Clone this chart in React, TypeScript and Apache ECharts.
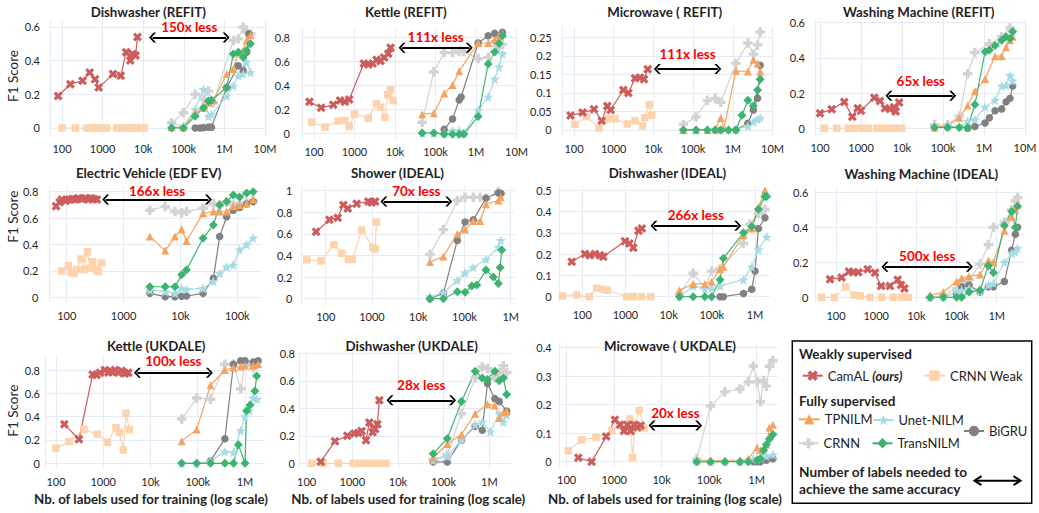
import React, { useEffect, useRef } from 'react';
import * as echarts from 'echarts';

type P = [number, number][];

const panelTitles = [
  'Dishwasher (REFIT)', 'Kettle (REFIT)', 'Microwave ( REFIT)', 'Washing Machine (REFIT)',
  'Electric Vehicle (EDF EV)', 'Shower (IDEAL)', 'Dishwasher (IDEAL)', 'Washing Machine (IDEAL)',
  'Kettle (UKDALE)', 'Dishwasher (UKDALE)', 'Microwave ( UKDALE)',
];

const xTickNames: Record<number, string> = { 1: '10', 2: '100', 3: '1000', 4: '10k', 5: '100k', 6: '1M', 7: '10M' };

// ---------- Panel 1: Dishwasher (REFIT)
const p1CamAL: P = [[80,0.19],[160,0.26],[320,0.28],[480,0.33],[650,0.29],[800,0.24],[1800,0.32],[2800,0.31],[3800,0.45],[4800,0.40],[5500,0.44],[6500,0.43],[7200,0.54]];
const p1Weak: P = [[100,0],[213,0],[410,0],[550,0],[720,0],[960,0],[1230,0],[2240,0],[3000,0],[4000,0],[5300,0],[7000,0],[9200,0],[10500,0]];
const p1Tp: P = [[50e3,0.005],[98e3,0.005],[190e3,0.09],[305e3,0.12],[405e3,0.15],[535e3,0.165],[1.14e6,0.32],[1.66e6,0.35],[2.2e6,0.45],[2.9e6,0.46],[3.5e6,0.52],[4.4e6,0.55]];
const p1Unet: P = [[50e3,0.03],[98e3,0.01],[190e3,0.11],[305e3,0.23],[405e3,0.07],[480e3,0.08],[1.14e6,0.19],[1.66e6,0.25],[2.2e6,0.31],[2.9e6,0.32],[3.5e6,0.39],[4.4e6,0.33]];
const p1Bigru: P = [[190e3,0],[250e3,0],[305e3,0.002],[405e3,0.005],[480e3,0.005],[1.14e6,0.24],[2.2e6,0.37],[2.9e6,0.34],[3.5e6,0.45],[4.0e6,0.56]];
const p1Crnn: P = [[50e3,0.03],[98e3,0.09],[190e3,0.2],[305e3,0.17],[405e3,0.22],[535e3,0.15],[1.66e6,0.52],[2.2e6,0.53],[2.9e6,0.6],[3.5e6,0.57],[4.4e6,0.56]];
const p1Trans: P = [[50e3,0],[98e3,0],[190e3,0.07],[305e3,0.12],[405e3,0.16],[480e3,0.165],[1.14e6,0.24],[1.66e6,0.44],[2.2e6,0.45],[2.9e6,0.42],[3.5e6,0.46],[4.4e6,0.50]];

// ---------- Panel 2: Kettle (REFIT)
const p2CamAL: P = [[77,0.26],[150,0.21],[300,0.235],[440,0.27],[580,0.26],[740,0.28],[1700,0.58],[2200,0.57],[2800,0.58],[3500,0.61],[4400,0.60],[5400,0.63],[6800,0.66],[7800,0.71]];
const p2Weak: P = [[88,0.09],[187,0.05],[398,0.10],[580,0.105],[740,0.055],[990,0.157],[2200,0.124],[3500,0.243],[4400,0.215],[5600,0.13],[6600,0.32],[7800,0.36],[9100,0.27]];
const p2Tp: P = [[47e3,0.157],[91e3,0.165],[164e3,0.33],[264e3,0.40],[384e3,0.515],[1.13e6,0.75],[2.0e6,0.75],[2.9e6,0.78],[3.7e6,0.81],[4.5e6,0.83]];
const p2Unet: P = [[47e3,0],[91e3,0],[164e3,0],[264e3,0.02],[384e3,0.02],[500e3,0],[1.13e6,0.19],[2.0e6,0.30],[2.9e6,0.45],[3.7e6,0.55],[4.5e6,0.66]];
const p2Bigru: P = [[164e3,0.03],[264e3,0.116],[384e3,0.276],[430e3,0.30],[1.13e6,0.75],[2.0e6,0.81],[2.9e6,0.83],[4.5e6,0.84]];
const p2Crnn: P = [[47e3,0.09],[91e3,0.51],[164e3,0.67],[264e3,0.67],[384e3,0.68],[500e3,0.68],[1.13e6,0.62],[2.0e6,0.63],[2.9e6,0.76],[3.7e6,0.72],[4.5e6,0.74]];
const p2Trans: P = [[47e3,0],[91e3,0],[164e3,-0.01],[264e3,-0.01],[384e3,-0.01],[500e3,-0.01],[1.13e6,0.138],[2.0e6,0.575],[2.9e6,0.676],[3.7e6,0.745],[4.5e6,0.81]];

// ---------- Panel 3: Microwave (REFIT)
const p3CamAL: P = [[82,0.039],[165,0.047],[320,0.056],[500,0.025],[690,0.065],[840,0.054],[1750,0.108],[2340,0.10],[3460,0.14],[4600,0.142],[5800,0.137],[7200,0.164]];
const p3Weak: P = [[106,0.015],[209,0.036],[430,0.005],[690,0.03],[1080,0.03],[2210,0.016],[3460,0.025],[5300,0.011],[6100,0.033],[7900,0.068],[9100,0.04]];
const p3Tp: P = [[57e3,0],[119e3,0],[230e3,0],[359e3,0.002],[500e3,0.032],[600e3,0.005],[1.2e6,0.16],[2.4e6,0.158],[3.3e6,0.19],[4.2e6,0.18],[4.9e6,0.158]];
const p3Unet: P = [[57e3,0],[119e3,0],[230e3,0],[359e3,0],[500e3,0],[780e3,0],[1.2e6,0.002],[2.4e6,0.01],[3.3e6,0.022],[4.2e6,0.029],[4.9e6,0.032]];
const p3Bigru: P = [[500e3,0],[1.2e6,0],[2.4e6,0.018],[3.3e6,0.054],[4.2e6,0.086],[4.9e6,0.175]];
const p3Crnn: P = [[57e3,0.015],[119e3,0.035],[230e3,0.08],[359e3,0.085],[500e3,0.075],[1.2e6,0.18],[2.4e6,0.235],[3.3e6,0.205],[4.2e6,0.23],[4.9e6,0.265]];
const p3Trans: P = [[57e3,0],[119e3,0],[230e3,0],[359e3,0],[500e3,0],[780e3,0],[1.2e6,0],[1.7e6,0.04],[2.4e6,0.08],[3.3e6,0.065],[4.2e6,0.108],[4.9e6,0.137]];

// ---------- Panel 4: Washing Machine (REFIT)
const p4CamAL: P = [[100,0.085],[193,0.108],[390,0.15],[614,0.066],[830,0.114],[1000,0.10],[2100,0.174],[2900,0.155],[3850,0.114],[5100,0.11],[6400,0.12],[7000,0.095],[8500,0.146]];
const p4Weak: P = [[127,0],[255,0],[490,0],[710,0],[1040,0],[1500,0],[2400,0],[3200,0],[4600,0],[6700,0],[9800,0]];
const p4Tp: P = [[62e3,0.005],[129e3,0.015],[250e3,0.06],[400e3,0.13],[600e3,0.21],[1.06e6,0.28],[1.86e6,0.41],[2.7e6,0.41],[3.45e6,0.46],[4.3e6,0.5],[5.0e6,0.52]];
const p4Unet: P = [[62e3,0.01],[129e3,0.01],[250e3,0.01],[400e3,0.04],[600e3,0.05],[1.06e6,0.12],[1.86e6,0.16],[2.7e6,0.24],[3.45e6,0.245],[4.3e6,0.3],[5.0e6,0.27]];
const p4Bigru: P = [[400e3,0],[600e3,0.01],[1.06e6,0.03],[1.35e6,0.06],[1.86e6,0.1],[2.7e6,0.11],[3.45e6,0.15],[4.3e6,0.17],[5.0e6,0.24]];
const p4Crnn: P = [[62e3,0.02],[129e3,0.02],[250e3,0.07],[400e3,0.31],[600e3,0.43],[1.35e6,0.48],[2.7e6,0.52],[4.3e6,0.57]];
const p4Trans: P = [[62e3,0.005],[129e3,0.005],[250e3,0.005],[400e3,0.005],[600e3,0.135],[1.06e6,0.435],[1.35e6,0.445],[1.86e6,0.47],[2.7e6,0.5],[3.45e6,0.52],[4.3e6,0.51],[5.0e6,0.55]];

// ---------- Panel 5: Electric Vehicle (EDF EV)
const p5CamAL: P = [[65,0.69],[75,0.72],[82,0.74],[95,0.73],[110,0.74],[125,0.745],[140,0.74],[160,0.75],[185,0.745],[210,0.75],[240,0.74],[270,0.75],[300,0.745],[340,0.74]];
const p5Weak: P = [[82,0.20],[107,0.24],[120,0.19],[135,0.18],[150,0.21],[179,0.29],[200,0.21],[231,0.345],[260,0.22],[286,0.27],[330,0.21],[360,0.195],[412,0.26]];
const p5Tp: P = [[2900,0.46],[5400,0.354],[8000,0.46],[10.5e3,0.515],[12.8e3,0.427],[25e3,0.636],[38e3,0.65],[49e3,0.65],[65e3,0.65],[85e3,0.69],[110e3,0.70],[146e3,0.71],[190e3,0.74]];
const p5Unet: P = [[2900,0.055],[5400,0.043],[8000,0.03],[10.5e3,0.068],[12.8e3,0.06],[25e3,0.068],[38e3,0.12],[49e3,0.18],[65e3,0.23],[85e3,0.245],[110e3,0.36],[146e3,0.40],[190e3,0.45]];
const p5Bigru: P = [[2900,0.03],[5400,0.005],[8000,0.005],[10.5e3,0.008],[12.8e3,0.01],[25e3,0.03],[38e3,0.144],[49e3,0.46],[65e3,0.61],[85e3,0.66],[110e3,0.68],[146e3,0.707],[190e3,0.725]];
const p5Crnn: P = [[2900,0.66],[5400,0.687],[8000,0.65],[10.5e3,0.64],[12.8e3,0.65],[25e3,0.675],[38e3,0.71],[49e3,0.7],[65e3,0.72],[85e3,0.70],[110e3,0.71],[146e3,0.72],[190e3,0.73]];
const p5Trans: P = [[2900,0.08],[5400,0.08],[8000,0.08],[10.5e3,0.17],[12.8e3,0.207],[25e3,0.447],[38e3,0.548],[49e3,0.70],[65e3,0.725],[85e3,0.775],[110e3,0.76],[146e3,0.79],[190e3,0.80]];

// ---------- Panel 6: Shower (IDEAL)
const p6CamAL: P = [[62,0.62],[120,0.73],[182,0.75],[240,0.867],[300,0.836],[467,0.88],[835,0.9],[990,0.89],[1170,0.9]];
const p6Weak: P = [[39,0.36],[79,0.35],[151,0.5],[222,0.42],[309,0.364],[377,0.364],[600,0.636],[1050,0.475],[1170,0.46],[1260,0.71]];
const p6Tp: P = [[18e3,0.34],[35e3,0.39],[70e3,0.6],[103e3,0.64],[155e3,0.72],[218e3,0.72],[292e3,0.875],[540e3,0.91],[610e3,0.94]];
const p6Unet: P = [[18e3,0.02],[35e3,0.055],[70e3,0.17],[103e3,0.24],[155e3,0.29],[292e3,0.364],[540e3,0.475],[610e3,0.54]];
const p6Bigru: P = [[18e3,0],[35e3,0.05],[70e3,0.54],[103e3,0.71],[155e3,0.73],[292e3,0.93],[540e3,0.98],[610e3,0.975]];
const p6Crnn: P = [[18e3,0.41],[35e3,0.64],[70e3,0.91],[103e3,0.94],[155e3,0.94],[218e3,0.94],[292e3,0.93],[540e3,0.99],[610e3,0.975]];
const p6Trans: P = [[18e3,0],[35e3,0],[70e3,0.065],[103e3,0.06],[144e3,0.117],[184e3,0.127],[292e3,0.265],[422e3,0.2],[541e3,0.14],[589e3,0.29],[639e3,0.45]];

// ---------- Panel 7: Dishwasher (IDEAL)
const p7CamAL: P = [[57,0.164],[115,0.2],[150,0.195],[196,0.2],[257,0.195],[307,0.188],[975,0.26],[1230,0.25],[1520,0.23],[2000,0.31],[2390,0.32]];
const p7Weak: P = [[35,0.003],[74,0.008],[145,0],[215,0.04],[300,0.035],[380,0.03],[1070,0],[1520,0],[2360,0],[3800,0]];
const p7Tp: P = [[17.8e3,0.03],[37e3,0.06],[69e3,0.06],[99e3,0.07],[155e3,0.13],[185e3,0.14],[540e3,0.29],[840e3,0.32],[1.2e6,0.42],[1.7e6,0.5]];
const p7Unet: P = [[17.8e3,0],[37e3,0.05],[69e3,0.04],[99e3,0.04],[155e3,0.05],[540e3,0.08],[840e3,0.14],[1.2e6,0.22],[1.86e6,0.28]];
const p7Bigru: P = [[155e3,0],[185e3,0],[540e3,0.015],[840e3,0.035],[1.0e6,0.12],[1.2e6,0.32],[1.7e6,0.37]];
const p7Crnn: P = [[17.8e3,0.01],[37e3,0.11],[69e3,0.04],[99e3,0.12],[155e3,0.13],[540e3,0.25],[760e3,0.34],[1.2e6,0.39],[1.7e6,0.41]];
const p7Trans: P = [[17.8e3,0],[37e3,0],[69e3,0],[99e3,0],[155e3,0.08],[185e3,0.18],[540e3,0.3],[840e3,0.33],[1.2e6,0.41],[1.7e6,0.47],[1.86e6,0.47]];

// ---------- Panel 8: Washing Machine (IDEAL)
const p8CamAL: P = [[71,0.103],[138,0.114],[210,0.147],[268,0.143],[360,0.143],[616,0.16],[935,0.14],[1320,0.065],[2200,0.065],[3430,0.1],[4150,0.07],[5040,0.05]];
const p8Weak: P = [[44,0],[91,0],[174,0.06],[280,0.013],[397,0.008],[700,0],[1370,0],[2680,0],[4300,0],[6300,0]];
const p8Tp: P = [[22e3,0.01],[47e3,0.03],[100e3,0.09],[134e3,0.11],[205e3,0.12],[384e3,0.13],[620e3,0.21],[830e3,0.2],[1.55e6,0.38],[2.36e6,0.46],[2.9e6,0.5],[3.3e6,0.53]];
const p8Unet: P = [[22e3,0],[47e3,0],[100e3,0.03],[134e3,0.04],[205e3,0.05],[384e3,0.03],[620e3,0.07],[830e3,0.08],[1.55e6,0.2],[2.36e6,0.25],[2.9e6,0.26],[3.3e6,0.28]];
const p8Bigru: P = [[100e3,0.02],[134e3,0.06],[205e3,0.07],[384e3,0.03],[620e3,0.06],[830e3,0.06],[1.55e6,0.09],[2.36e6,0.27],[2.9e6,0.36],[3.3e6,0.4]];
const p8Crnn: P = [[22e3,0],[47e3,0.01],[100e3,0.05],[134e3,0.08],[205e3,0.1],[384e3,0.19],[620e3,0.3],[830e3,0.4],[1.55e6,0.43],[2.36e6,0.5],[2.9e6,0.55],[3.3e6,0.57]];
const p8Trans: P = [[22e3,0],[47e3,0],[100e3,0],[134e3,0],[205e3,0.03],[384e3,0.04],[620e3,0.18],[830e3,0.14],[1.55e6,0.41],[2.36e6,0.49],[2.9e6,0.4],[3.3e6,0.52]];

// ---------- Panel 9: Kettle (UKDALE)
const p9CamAL: P = [[150,0.334],[307,0.206],[597,0.763],[725,0.757],[853,0.777],[1090,0.8],[1280,0.78],[1510,0.785],[1770,0.8],[2090,0.777],[2450,0.794],[2880,0.771],[3400,0.777]];
const p9Weak: P = [[100,0.13],[191,0.186],[391,0.29],[750,0.25],[1220,0.18],[1860,0.306],[2190,0.266],[2660,0.114],[3030,0.43],[3560,0.29]];
const p9Tp: P = [[45.7e3,0.19],[95e3,0.29],[186e3,0.67],[375e3,0.8],[570e3,0.82],[810e3,0.83],[1e6,0.84],[1.5e6,0.84],[1.9e6,0.85]];
const p9Unet: P = [[45.7e3,0],[95e3,0],[186e3,0.02],[375e3,0.1],[570e3,0.09],[810e3,0.28],[1e6,0.4],[1.23e6,0.45],[1.5e6,0.56],[1.8e6,0.55]];
const p9Bigru: P = [[186e3,0.02],[375e3,0.21],[570e3,0.85],[810e3,0.88],[1e6,0.88],[1.5e6,0.87],[1.9e6,0.88]];
const p9Crnn: P = [[45.7e3,0.38],[95e3,0.56],[186e3,0.55],[375e3,0.85],[570e3,0.85],[810e3,0.64],[1e6,0.86],[1.5e6,0.82]];
const p9Trans: P = [[45.7e3,0],[95e3,0],[186e3,0],[375e3,0],[570e3,0],[725e3,0.16],[1e6,0],[1.08e6,0.45],[1.28e6,0.5],[1.62e6,0.62],[1.77e6,0.75]];

// ---------- Panel 10: Dishwasher (UKDALE)
const p10CamAL: P = [[203,0.012],[417,0.16],[776,0.2],[1110,0.217],[1350,0.22],[1600,0.234],[1990,0.168],[2350,0.296],[2790,0.225],[3150,0.25],[3540,0.284],[3900,0.458]];
const p10Weak: P = [[129,0],[232,0],[494,0],[1050,0],[1470,0],[2060,0],[2870,0],[4030,0],[5440,0]];
const p10Tp: P = [[59e3,0.04],[120e3,0.14],[246e3,0.21],[490e3,0.36],[910e3,0.43],[1.32e6,0.42],[1.65e6,0.33],[2.03e6,0.37],[2.4e6,0.38]];
const p10Unet: P = [[59e3,0.02],[120e3,0.05],[246e3,0.17],[490e3,0.28],[700e3,0.3],[1.05e6,0.23],[1.65e6,0.36],[2.03e6,0.3],[2.4e6,0.35]];
const p10Bigru: P = [[59e3,0.01],[120e3,0.01],[246e3,0.17],[490e3,0.27],[700e3,0.24],[910e3,0.58],[1.32e6,0.47],[1.65e6,0.45],[2.4e6,0.38]];
const p10Crnn: P = [[59e3,0.03],[120e3,0.06],[246e3,0.36],[490e3,0.62],[700e3,0.7],[910e3,0.69],[1.32e6,0.62],[1.65e6,0.66],[2.03e6,0.71],[2.4e6,0.66]];
const p10Trans: P = [[59e3,0.07],[120e3,0.18],[246e3,0.45],[490e3,0.67],[700e3,0.62],[910e3,0.61],[1.32e6,0.67],[1.65e6,0.6],[2.03e6,0.62],[2.4e6,0.5]];

// ---------- Panel 11: Microwave (UKDALE)
const p11CamAL: P = [[176,0.014],[336,0],[680,0.088],[1040,0.147],[1330,0.13],[1610,0.108],[1900,0.13],[2230,0.108],[2620,0.13],[3080,0.12],[3620,0.127]];
const p11Weak: P = [[108,0.038],[207,0.076],[414,0.085],[890,0.108],[1330,0.13],[1690,0.11],[2150,0.15],[2450,0.014],[2750,0.13],[3380,0.18],[4260,0.118]];
const p11Tp: P = [[55e3,0.005],[107e3,0.005],[215e3,0.005],[445e3,0.005],[665e3,0.01],[1.02e6,0.05],[1.2e6,0.04],[1.6e6,0.06],[1.86e6,0.12],[2.2e6,0.13]];
const p11Unet: P = [[55e3,0],[107e3,0],[215e3,0],[445e3,0],[665e3,0.005],[850e3,0.01],[1.02e6,0.01],[1.2e6,0.015],[1.6e6,0.02],[2.2e6,0.025]];
const p11Bigru: P = [[850e3,0],[1.02e6,0],[1.2e6,0],[1.6e6,0.005],[2.2e6,0.01]];
const p11Crnn: P = [[55e3,0.01],[107e3,0.195],[215e3,0.245],[445e3,0.255],[665e3,0.28],[850e3,0.335],[1.02e6,0.28],[1.2e6,0.21],[1.4e6,0.285],[1.6e6,0.265],[1.86e6,0.335],[2.2e6,0.355]];
const p11Trans: P = [[55e3,0],[107e3,0],[215e3,0],[445e3,0],[665e3,0],[1.02e6,0.005],[1.2e6,0.01],[1.4e6,0.04],[1.6e6,0.06],[1.86e6,0.08],[2.2e6,0.095]];

// ---------- "x less" arrows
const arrowStart = [17e3, 15e3, 12.6e3, 4.8e3, 485, 1820, 4570, 1660, 5300, 6700, 6300];
const arrowEnd = [1.1e6, 680e3, 420e3, 172e3, 31e3, 45.6e3, 397e3, 209e3, 176e3, 157e3, 60e3];
const arrowLevel = [0.537, 0.71, 0.165, 0.185, 0.74, 0.9, 0.333, 0.175, 0.777, 0.458, 0.127];
const arrowText = ['150x less', '111x less', '111x less', '65x less', '166x less', '70x less', '266x less', '500x less', '100x less', '28x less', '20x less'];

const panels = [
  { camal: p1CamAL, weak: p1Weak, tp: p1Tp, unet: p1Unet, bigru: p1Bigru, crnn: p1Crnn, trans: p1Trans },
  { camal: p2CamAL, weak: p2Weak, tp: p2Tp, unet: p2Unet, bigru: p2Bigru, crnn: p2Crnn, trans: p2Trans },
  { camal: p3CamAL, weak: p3Weak, tp: p3Tp, unet: p3Unet, bigru: p3Bigru, crnn: p3Crnn, trans: p3Trans },
  { camal: p4CamAL, weak: p4Weak, tp: p4Tp, unet: p4Unet, bigru: p4Bigru, crnn: p4Crnn, trans: p4Trans },
  { camal: p5CamAL, weak: p5Weak, tp: p5Tp, unet: p5Unet, bigru: p5Bigru, crnn: p5Crnn, trans: p5Trans },
  { camal: p6CamAL, weak: p6Weak, tp: p6Tp, unet: p6Unet, bigru: p6Bigru, crnn: p6Crnn, trans: p6Trans },
  { camal: p7CamAL, weak: p7Weak, tp: p7Tp, unet: p7Unet, bigru: p7Bigru, crnn: p7Crnn, trans: p7Trans },
  { camal: p8CamAL, weak: p8Weak, tp: p8Tp, unet: p8Unet, bigru: p8Bigru, crnn: p8Crnn, trans: p8Trans },
  { camal: p9CamAL, weak: p9Weak, tp: p9Tp, unet: p9Unet, bigru: p9Bigru, crnn: p9Crnn, trans: p9Trans },
  { camal: p10CamAL, weak: p10Weak, tp: p10Tp, unet: p10Unet, bigru: p10Bigru, crnn: p10Crnn, trans: p10Trans },
  { camal: p11CamAL, weak: p11Weak, tp: p11Tp, unet: p11Unet, bigru: p11Bigru, crnn: p11Crnn, trans: p11Trans },
];

// ---------- layout / styles
const layout = [
  { l: 49.8, r: 265, t: 20.2, b: 136.4, xMin: 50, xMax: 1e7, yMin: -0.05, yMax: 0.64, step: 0.2, lab: 40, tx: 148.3, ty: 12.3, ad: 4 },
  { l: 301.8, r: 516.5, t: 28.6, b: 139, xMin: 50, xMax: 1e7, yMin: -0.05, yMax: 0.87, step: 0.2, lab: 290, tx: 405.8, ty: 12.3, ad: 4 },
  { l: 562, r: 772.5, t: 26.4, b: 135.5, xMin: 50, xMax: 1e7, yMin: -0.015, yMax: 0.28, step: 0.05, lab: 551.7, tx: 664.7, ty: 12.3, ad: 8 },
  { l: 814.9, r: 1025, t: 19.2, b: 135.3, xMin: 75, xMax: 1e7, yMin: -0.04, yMax: 0.62, step: 0.2, lab: 805, tx: 918.7, ty: 12.3, ad: 8 },
  { l: 49.6, r: 261.8, t: 186.4, b: 302.6, xMin: 50, xMax: 2.7e5, yMin: -0.04, yMax: 0.84, step: 0.2, lab: 38.3, tx: 148.7, ty: 172.7, ad: 2 },
  { l: 301.5, r: 514.4, t: 186.4, b: 304.1, xMin: 30, xMax: 1.2e6, yMin: -0.05, yMax: 1.04, step: 0.2, lab: 292.3, tx: 397.5, ty: 172.7, ad: 4 },
  { l: 559.7, r: 769.8, t: 185.9, b: 302, xMin: 30, xMax: 2.2e6, yMin: -0.025, yMax: 0.52, step: 0.1, lab: 551.7, tx: 667.5, ty: 172.7, ad: 4 },
  { l: 815, r: 1024.8, t: 187, b: 302.6, xMin: 30, xMax: 5e6, yMin: -0.03, yMax: 0.63, step: 0.2, lab: 808.3, tx: 921.3, ty: 174.3, ad: 4 },
  { l: 45.5, r: 264.6, t: 356.1, b: 469.1, xMin: 60, xMax: 2.6e6, yMin: -0.05, yMax: 0.92, step: 0.2, lab: 40, tx: 156.2, ty: 345.7, ad: 5 },
  { l: 299.6, r: 511.1, t: 351.9, b: 468.8, xMin: 70, xMax: 3e6, yMin: -0.04, yMax: 0.81, step: 0.2, lab: 295, tx: 411.7, ty: 345.7, ad: 8 },
  { l: 559.3, r: 777.9, t: 344.8, b: 467.4, xMin: 70, xMax: 2.8e6, yMin: -0.02, yMax: 0.41, step: 0.1, lab: 551.7, tx: 670, ty: 345.7, ad: 5 },
];

const FONT = "Lato, 'Noto Sans', 'DejaVu Sans', sans-serif";
const GRID = '#E5EBF4';
const TXT = '#1f1f1f';

const X_PATH = 'path://M-5,-2.5L-2.5,-5L0,-2.5L2.5,-5L5,-2.5L2.5,0L5,2.5L2.5,5L0,2.5L-2.5,5L-5,2.5L-2.5,0Z';
const PLUS_PATH = 'path://M-1.8,-5L1.8,-5L1.8,-1.8L5,-1.8L5,1.8L1.8,1.8L1.8,5L-1.8,5L-1.8,1.8L-5,1.8L-5,-1.8L-1.8,-1.8Z';
const starPts = Array.from({ length: 10 }, (_, i) => {
  const a = -Math.PI / 2 + (i * Math.PI) / 5;
  const r = i % 2 === 0 ? 5 : 2.2;
  return `${(r * Math.cos(a)).toFixed(2)},${(r * Math.sin(a)).toFixed(2)}`;
});
const STAR_PATH = 'path://M' + starPts.join('L') + 'Z';
const CHEV_PATH = 'path://M0,0L6,5L6,7.5L0,2.5L-6,7.5L-6,5Z';

const seriesStyles = [
  { key: 'weak', name: 'CRNN Weak', color: '#FDD3AE', symbol: 'rect', size: 7.5 },
  { key: 'camal', name: 'CamAL', color: '#CD5C5C', symbol: X_PATH, size: 9 },
  { key: 'crnn', name: 'CRNN', color: '#D3D3D3', symbol: PLUS_PATH, size: 9.5 },
  { key: 'bigru', name: 'BiGRU', color: '#808080', symbol: 'circle', size: 7.5 },
  { key: 'unet', name: 'Unet-NILM', color: '#A8DCE4', symbol: STAR_PATH, size: 10 },
  { key: 'tp', name: 'TPNILM', color: '#F4A460', symbol: 'triangle', size: 8 },
  { key: 'trans', name: 'TransNILM', color: '#3CB371', symbol: 'diamond', size: 9 },
];

const legendItems = [
  { name: 'CamAL', left: 801.7, cy: 375.7, w: 20 },
  { name: 'CRNN Weak', left: 923, cy: 375.7, w: 21 },
  { name: 'TPNILM', left: 797.7, cy: 419.3, w: 21 },
  { name: 'Unet-NILM', left: 872.5, cy: 420, w: 20 },
  { name: 'BiGRU', left: 963, cy: 431, w: 20 },
  { name: 'CRNN', left: 797.5, cy: 443.3, w: 20 },
  { name: 'TransNILM', left: 871.5, cy: 443.3, w: 20 },
];

function xFmt(v: number): string {
  const e = Math.log10(v);
  const r = Math.round(e);
  if (Math.abs(e - r) > 0.01) return '';
  return xTickNames[r] ?? '';
}

function yFmt(step: number) {
  return (v: number) => {
    const q = v / step;
    if (Math.abs(q - Math.round(q)) > 1e-6) return '';
    return String(Number(v.toFixed(2)));
  };
}

function isPow10(v: number) {
  const e = Math.log10(v);
  return Math.abs(e - Math.round(e)) < 1e-6;
}

function buildOption() {
  const grids = layout.map((L) => ({
    left: L.l, top: L.t, width: L.r - L.l, height: L.b - L.t,
    containLabel: false, outerBoundsMode: 'none',
  }));
  const xAxes = layout.map((L, i) => ({
    type: 'log', logBase: 10, gridIndex: i, min: L.xMin, max: L.xMax,
    axisLine: { show: false }, axisTick: { show: false },
    axisLabel: {
      formatter: xFmt, margin: 7, fontSize: 11, color: TXT, fontFamily: FONT,
      hideOverlap: false, alignMinLabel: 'center', alignMaxLabel: 'center',
    },
    splitLine: { show: true, lineStyle: { color: GRID, width: 1 }, showMinLine: true, showMaxLine: isPow10(L.xMax) },
  }));
  const yAxes = layout.map((L, i) => {
    const span = L.yMax - L.yMin;
    return {
      type: 'value', gridIndex: i, min: L.yMin, max: L.yMax,
      splitNumber: Math.max(3, Math.round(span / L.step)),
      minInterval: L.step, maxInterval: L.step,
      axisLine: { show: false }, axisTick: { show: false },
      axisLabel: { formatter: yFmt(L.step), margin: L.l - L.lab, fontSize: 11, color: TXT, fontFamily: FONT, hideOverlap: false },
      splitLine: { show: true, lineStyle: { color: GRID, width: 1 }, showMinLine: false, showMaxLine: false },
    };
  });

  const series: any[] = [];
  panels.forEach((pd: any, i) => {
    const L = layout[i];
    seriesStyles.forEach((s) => {
      const data = pd[s.key] as P;
      if (!data || !data.length) return;
      const ser: any = {
        type: 'line', name: s.name, xAxisIndex: i, yAxisIndex: i, data,
        symbol: s.symbol, symbolSize: s.size, showSymbol: true, showAllSymbol: true,
        clip: false, animation: false, silent: true,
        lineStyle: { color: s.color, width: 1.2 },
        itemStyle: { color: s.color },
        emphasis: { disabled: true },
      };
      if (s.key === 'camal') {
        ser.markLine = {
          silent: true, animation: false,
          symbol: [CHEV_PATH, CHEV_PATH], symbolSize: [10, 7],
          lineStyle: { color: '#000', width: 2, type: 'solid' },
          label: {
            show: true, position: 'insideMiddleTop', formatter: arrowText[i],
            color: '#FF0000', fontWeight: 'bold', fontSize: 13.5, fontFamily: FONT, distance: L.ad,
          },
          emphasis: { disabled: true },
          data: [[{ coord: [arrowStart[i], arrowLevel[i]] }, { coord: [arrowEnd[i], arrowLevel[i]] }]],
        };
      }
      series.push(ser);
    });
  });

  const legends = legendItems.map((it) => ({
    data: [it.name], left: it.left, top: it.cy - 6.5, orient: 'horizontal',
    padding: 0, itemGap: 0, itemWidth: it.w, itemHeight: 13, selectedMode: false,
    lineStyle: { width: 2 },
    formatter: (name: string) => (name === 'CamAL' ? 'CamAL {o|(ours)}' : name),
    textStyle: {
      fontSize: 13, fontFamily: FONT, color: TXT, lineHeight: 13,
      rich: { o: { fontSize: 13, fontFamily: FONT, fontWeight: 'bold', fontStyle: 'italic', color: TXT, lineHeight: 13 } },
    },
  }));

  const txt = (text: string, x: number, y: number, o: any = {}) => ({
    type: 'text', x, y, silent: true, rotation: o.rotation || 0, z: 10,
    style: {
      text, fill: o.fill || TXT, fontSize: o.fontSize || 12, fontWeight: o.fontWeight || 'normal',
      fontFamily: FONT, fontStyle: o.fontStyle || 'normal',
      textAlign: o.align || 'center', textVerticalAlign: 'middle',
      align: o.align || 'center', verticalAlign: 'middle',
    },
  });

  const elements: any[] = [];
  layout.forEach((L, i) => elements.push(txt(panelTitles[i], L.tx, L.ty, { fontWeight: 'bold', fontSize: 13.3 })));
  [76, 216.7, 410.7].forEach((y) => elements.push(txt('F1 Score', 13, y, { fontSize: 13.5, rotation: Math.PI / 2 })));
  [151, 408.3, 665].forEach((x) => elements.push(txt('Nb. of labels used for training (log scale)', x, 499.3, { fontWeight: 'bold', fontSize: 13.3 })));
  elements.push({
    type: 'rect', silent: true, z: 1,
    shape: { x: 792.3, y: 341, width: 239.4, height: 162.3 },
    style: { fill: 'rgba(255,255,255,0)', stroke: '#000', lineWidth: 1.5 },
  });
  elements.push(txt('Weakly supervised', 799, 354.3, { fontWeight: 'bold', fontSize: 13.5, align: 'left' }));
  elements.push(txt('Fully supervised', 799, 401, { fontWeight: 'bold', fontSize: 13.5, align: 'left' }));
  elements.push(txt('Number of labels needed to', 799, 471.7, { fontWeight: 'bold', fontSize: 13.7, align: 'left' }));
  elements.push(txt('achieve the same accuracy', 799, 488.3, { fontWeight: 'bold', fontSize: 13.7, align: 'left' }));
  elements.push({ type: 'line', silent: true, z: 10, shape: { x1: 975, y1: 480.7, x2: 1020, y2: 480.7 }, style: { stroke: '#000', lineWidth: 2 } });
  elements.push({ type: 'polyline', silent: true, z: 10, shape: { points: [[981.5, 476.2], [974.5, 480.7], [981.5, 485.2]] }, style: { stroke: '#000', lineWidth: 2, fill: null } });
  elements.push({ type: 'polyline', silent: true, z: 10, shape: { points: [[1013.5, 476.2], [1020.5, 480.7], [1013.5, 485.2]] }, style: { stroke: '#000', lineWidth: 2, fill: null } });

  return {
    animation: false,
    backgroundColor: '#ffffff',
    textStyle: { fontFamily: FONT },
    grid: grids,
    xAxis: xAxes,
    yAxis: yAxes,
    legend: legends,
    series,
    graphic: { elements },
  };
}

export default function App() {
  const ref = useRef<HTMLDivElement>(null);
  useEffect(() => {
    document.body.style.margin = '0';
    if (!ref.current) return;
    const chart = echarts.init(ref.current, null, { renderer: 'svg' });
    chart.setOption(buildOption() as any);
    return () => chart.dispose();
  }, []);
  return <div ref={ref} style={{ width: 1039, height: 513 }} />;
}
